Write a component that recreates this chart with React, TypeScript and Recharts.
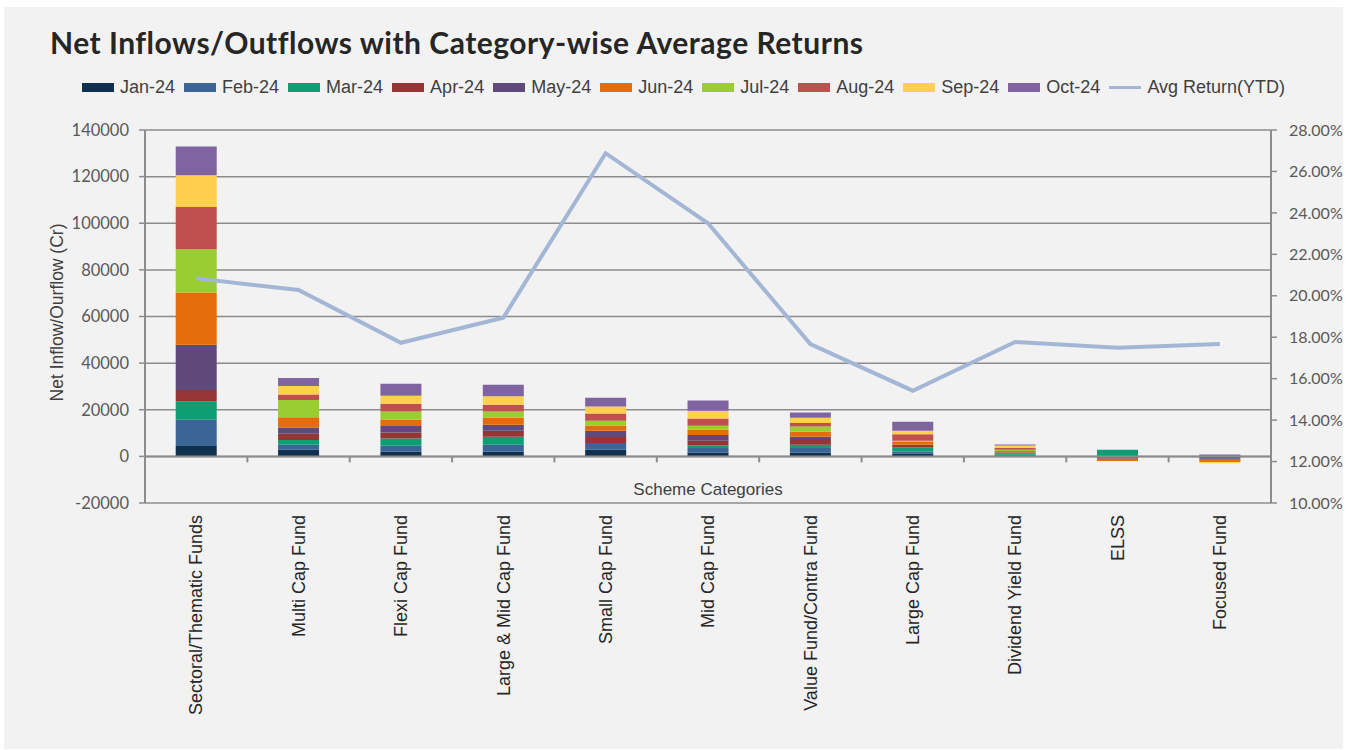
import React from 'react';
import { ComposedChart, Bar, Line, XAxis, YAxis, CartesianGrid, ReferenceLine } from 'recharts';

const categories = [
  'Sectoral/Thematic Funds', 'Multi Cap Fund', 'Flexi Cap Fund', 'Large & Mid Cap Fund',
  'Small Cap Fund', 'Mid Cap Fund', 'Value Fund/Contra Fund', 'Large Cap Fund',
  'Dividend Yield Fund', 'ELSS', 'Focused Fund',
];

const months = ['Jan-24', 'Feb-24', 'Mar-24', 'Apr-24', 'May-24', 'Jun-24', 'Jul-24', 'Aug-24', 'Sep-24', 'Oct-24'];
const monthColors = ['#10304F', '#3A6596', '#0E9E74', '#963634', '#5F4A7B', '#E46C0A', '#9ACD32', '#C0504D', '#FFD050', '#8064A2'];

const jan24 = [4400, 2860, 2140, 2000, 2860, 1710, 1710, 1140, 300, -200, -100];
const feb24 = [11300, 2140, 2430, 3000, 2860, 1860, 1860, 1000, 400, -200, -100];
const mar24 = [7800, 2000, 3140, 3430, -100, 1140, 1430, 1710, 300, 2850, -100];
const apr24 = [5000, 2700, 2570, 2570, 2570, 2000, 2430, 570, 250, -300, -500];
const may24 = [19400, 2700, 2700, 2570, 2700, 2430, 1000, 570, 400, -300, -600];
const jun24 = [22400, 4400, 2860, 3000, 2290, 2290, 2140, 1400, 700, -1000, -600];
const jul24 = [18600, 7400, 3430, 2700, 2000, 1710, 2290, 290, 500, 0, -100];
const aug24 = [18100, 2300, 3290, 2860, 3140, 3140, 1430, 2860, 700, 0, -300];
const sep24 = [13600, 3700, 3430, 3700, 3000, 3290, 2290, 1430, 1100, 0, -500];
const oct24 = [12300, 3400, 5140, 4860, 3700, 4430, 2290, 3860, 400, 0, 800];
const monthSeries = [jan24, feb24, mar24, apr24, may24, jun24, jul24, aug24, sep24, oct24];

const avgReturn = [20.84, 20.28, 17.73, 18.94, 26.88, 23.5, 17.67, 15.42, 17.77, 17.49, 17.67];

const leftTicks = [-20000, 0, 20000, 40000, 60000, 80000, 100000, 120000, 140000];
const rightTicks = [10, 12, 14, 16, 18, 20, 22, 24, 26, 28];

const data = categories.map((name, i) => {
  const row: Record<string, any> = { name, avg: avgReturn[i] };
  months.forEach((m, j) => { row[m] = monthSeries[j][i]; });
  return row;
});

const AXIS = '#8C8C8C';
const TICK_FONT = 'Lato, "Open Sans", sans-serif';
const ARIAL = '"Liberation Sans", Arial, sans-serif';

const CategoryTick = (props: any) => {
  const { x, y, payload } = props;
  return (
    <text
      x={x}
      y={y}
      transform={`rotate(-90 ${x} ${y})`}
      textAnchor="end"
      dx={-4}
      dy="0.35em"
      fontFamily={ARIAL}
      fontSize={18}
      fill="#262626"
    >
      {payload.value}
    </text>
  );
};

const ZeroAxis = (props: any) => {
  const { x1, y1, x2, y2 } = props;
  const n = categories.length;
  const step = (x2 - x1) / n;
  const ticks = [];
  for (let i = 1; i < n; i++) {
    const tx = x1 + step * i;
    ticks.push(<line key={i} x1={tx} x2={tx} y1={y1} y2={y1 + 6} stroke={AXIS} strokeWidth={2} />);
  }
  return (
    <g>
      <line x1={x1} y1={y1} x2={x2} y2={y2} stroke={AXIS} strokeWidth={2} />
      {ticks}
    </g>
  );
};

const LeftLabel = (props: any) => {
  const { viewBox } = props;
  const cx = viewBox.x + 57;
  const cy = viewBox.y + viewBox.height / 2 - 4;
  return (
    <text
      x={cx}
      y={cy}
      transform={`rotate(-90 ${cx} ${cy})`}
      textAnchor="middle"
      dy="0.35em"
      fontFamily={ARIAL}
      fontSize={17.5}
      fill="#404040"
    >
      Net Inflow/Ourflow (Cr)
    </text>
  );
};

const legendItems = [
  ...months.map((m, i) => ({ label: m, color: monthColors[i], line: false })),
  { label: 'Avg Return(YTD)', color: '#A3B6D5', line: true },
];

export default function App() {
  return (
    <div style={{ position: 'fixed', left: 0, top: 0, width: 1348, height: 750, background: '#ffffff', overflow: 'hidden' }}>
      <div style={{ position: 'absolute', left: 4, top: 7, width: 1339, height: 742, background: '#F2F2F2' }} />
      <div
        style={{
          position: 'absolute', left: 50, top: 24, fontFamily: 'Lato, sans-serif', fontWeight: 700,
          fontSize: 30, letterSpacing: 0.5, color: '#262626', whiteSpace: 'nowrap',
        }}
      >
        Net Inflows/Outflows with Category-wise Average Returns
      </div>
      <div
        style={{
          position: 'absolute', left: 82, top: 77, display: 'flex', alignItems: 'center',
          fontFamily: ARIAL, fontSize: 18, color: '#404040', whiteSpace: 'nowrap',
        }}
      >
        {legendItems.map((it) => (
          <div key={it.label} style={{ display: 'flex', alignItems: 'center', marginRight: 9 }}>
            <span
              style={{
                display: 'inline-block', width: 32, height: it.line ? 3 : 9,
                background: it.color, marginRight: 6,
              }}
            />
            <span>{it.label}</span>
          </div>
        ))}
      </div>
      <div style={{ position: 'absolute', left: 0, top: 0 }}>
        <ComposedChart
          width={1348}
          height={750}
          data={data}
          stackOffset="sign"
          barCategoryGap="30%"
          margin={{ top: 130, right: 0, left: 0, bottom: 0 }}
        >
          <CartesianGrid yAxisId="left" vertical={false} stroke={AXIS} strokeWidth={1.5} />
          <XAxis
            dataKey="name"
            height={247}
            axisLine={false}
            tickLine={false}
            interval={0}
            tick={<CategoryTick />}
            label={{ value: 'Scheme Categories', position: 'top', offset: 8, fontFamily: ARIAL, fontSize: 17, fill: '#404040' }}
          />
          <YAxis
            yAxisId="left"
            orientation="left"
            width={145}
            domain={[-20000, 140000]}
            ticks={leftTicks}
            interval={0}
            axisLine={{ stroke: AXIS, strokeWidth: 2 }}
            tickLine={{ stroke: AXIS, strokeWidth: 1.5 }}
            tickSize={6}
            tickMargin={10}
            tick={{ fontFamily: TICK_FONT, fontSize: 16.5, fill: '#595959' }}
            label={<LeftLabel />}
          />
          <YAxis
            yAxisId="right"
            orientation="right"
            width={77}
            domain={[10, 28]}
            ticks={rightTicks}
            interval={0}
            axisLine={{ stroke: AXIS, strokeWidth: 2 }}
            tickLine={{ stroke: AXIS, strokeWidth: 1.5 }}
            tickSize={6}
            tickMargin={12}
            tickFormatter={(v: number) => `${v.toFixed(2)}%`}
            tick={{ fontFamily: TICK_FONT, fontSize: 16, fill: '#595959' }}
          />
          {months.map((m, i) => (
            <Bar key={m} dataKey={m} yAxisId="left" stackId="flows" fill={monthColors[i]} isAnimationActive={false} />
          ))}
          <ReferenceLine yAxisId="left" y={0} shape={<ZeroAxis />} />
          <Line
            yAxisId="right"
            dataKey="avg"
            type="linear"
            stroke="#A3B6D5"
            strokeWidth={4}
            dot={false}
            activeDot={false}
            isAnimationActive={false}
          />
        </ComposedChart>
      </div>
    </div>
  );
}
